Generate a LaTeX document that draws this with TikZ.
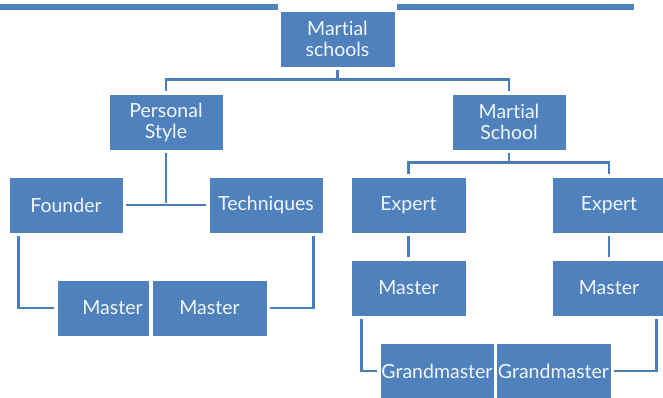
\documentclass[tikz,border=0pt]{standalone}
\usepackage{fontspec}
\setmainfont{Lato}[Ligatures={NoCommon}]
\definecolor{boxblue}{HTML}{4F81BD}
\definecolor{linkblue}{HTML}{4A7EBB}
\definecolor{txt}{HTML}{F2F6FB}
\begin{document}
\begin{tikzpicture}[x=1pt,y=-1pt,
  box/.style={draw=white, line width=1pt, fill=boxblue, inner sep=0pt,
    minimum width=114pt, minimum height=56pt, text=txt, align=center,
    font=\fontsize{19.5}{21}\selectfont},
  conn/.style={draw=linkblue, line width=2.4pt, shorten <=2.5pt, shorten >=2.5pt}]
\useasboundingbox (0,0) rectangle (663,397);
% top bar
\fill[boxblue] (0,3.5) rectangle (634,9.5);
\fill[white] (278,2) rectangle (397,12);
% nodes
\node[box, minimum width=115pt] (top) at (337.5,39) {Martial\\schools};
\node[box] (ps) at (166,122) {Personal\\Style};
\node[box] (mss) at (509,122) {Martial\\School};
\node[box] (f) at (66,205) {Founder};
\node[box] (t) at (266,205) {Techniques};
\node[box, minimum width=92pt] (m1) at (103,308) {\hspace*{19pt}Master};
\node[box, minimum width=115pt] (m2) at (209.5,308) {Master};
\node[box, minimum width=115pt] (e1) at (408.5,205) {Expert};
\node[box] (e2) at (609,205) {Expert};
\node[box, minimum width=115pt] (mr1) at (408.5,288) {Master};
\node[box] (mr2) at (609,288) {Master};
\node[box] (g1) at (437,371) {Grandmaster};
\node[box, minimum width=115pt] (g2) at (553.5,371) {Grandmaster};
% connectors
\draw[conn] (top.south) -- ++(0,12) -| (ps.north);
\draw[conn] (top.south) -- ++(0,12) -| (mss.north);
\draw[conn] (ps.south) -- (ps.south |- f.east);
\draw[conn] (f.east) -- (t.west);
\draw[conn] ([xshift=10pt]f.south west) |- (m1.west);
\draw[conn] ([xshift=-10pt]t.south east) |- (m2.east);
\draw[conn] (mss.south) -- ++(0,12) -| (e1.north);
\draw[conn] (mss.south) -- ++(0,12) -| (e2.north);
\draw[conn] (e1.south) -- (mr1.north);
\draw[conn] (e2.south) -- (mr2.north);
\draw[conn] ([xshift=11pt]mr1.south west) |- (g1.west);
\draw[conn] ([xshift=-10pt]mr2.south east) |- (g2.east);
\end{tikzpicture}
\end{document}
